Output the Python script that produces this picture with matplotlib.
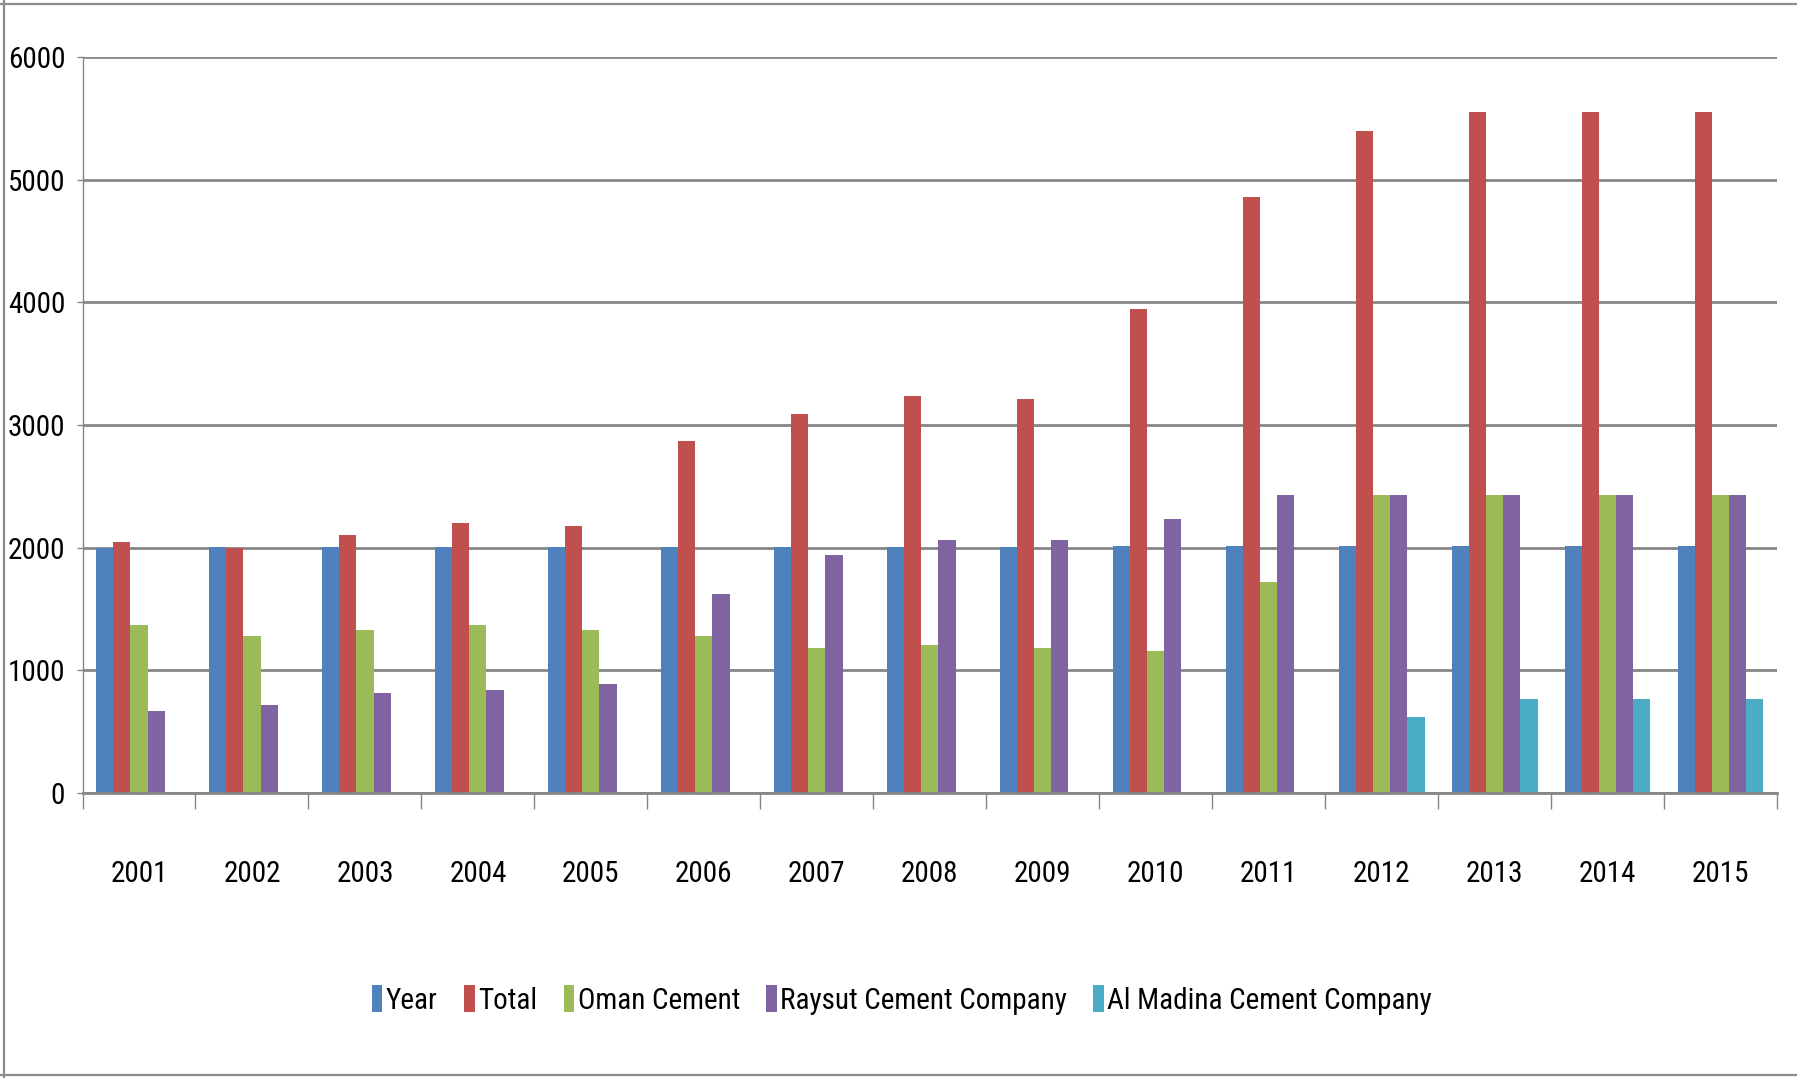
import numpy as np
import matplotlib
matplotlib.use("Agg")
import matplotlib.pyplot as plt
from matplotlib import font_manager
from matplotlib.lines import Line2D

# pick the narrowest font that is installed (the chart uses a very condensed face)
installed = {(f.name, f.stretch) for f in font_manager.fontManager.ttflist}
names = {n for n, _ in installed}
if 'Liberation Sans Narrow' in names:
    fam, stretch, fs = 'Liberation Sans Narrow', 'normal', 22
elif 'Roboto Condensed' in names:
    fam, stretch, fs = 'Roboto Condensed', 'normal', 21
elif ('DejaVu Sans', 'condensed') in installed or ('DejaVu Sans', 700) in installed:
    fam, stretch, fs = 'DejaVu Sans', 'condensed', 18
elif 'Liberation Sans' in names:
    fam, stretch, fs = 'Liberation Sans', 'normal', 18
else:
    fam, stretch, fs = 'DejaVu Sans', 'normal', 16
plt.rcParams['font.family'] = [fam, 'DejaVu Sans']
plt.rcParams['font.stretch'] = stretch

# data
years = ['2001', '2002', '2003', '2004', '2005', '2006', '2007', '2008',
         '2009', '2010', '2011', '2012', '2013', '2014', '2015']
year_vals = [2001, 2002, 2003, 2004, 2005, 2006, 2007, 2008,
             2009, 2010, 2011, 2012, 2013, 2014, 2015]
total = [2050, 1995, 2100, 2200, 2180, 2870, 3090, 3235,
         3215, 3945, 4860, 5400, 5550, 5550, 5550]
oman = [1370, 1280, 1330, 1370, 1327, 1280, 1182, 1208,
        1186, 1160, 1720, 2430, 2430, 2430, 2430]
raysut = [670, 720, 815, 840, 890, 1620, 1940, 2060,
          2060, 2230, 2430, 2430, 2430, 2430, 2430]
madina = [np.nan] * 11 + [620, 770, 770, 770]

series = [('Year', year_vals, '#4F81BD'),
          ('Total', total, '#C0504D'),
          ('Oman Cement', oman, '#9BBB59'),
          ('Raysut Cement Company', raysut, '#8064A2'),
          ('Al Madina Cement Company', madina, '#4BACC6')]

W, H = 1797, 1078
fig = plt.figure(figsize=(W / 100, H / 100), dpi=100)
ax = fig.add_axes([82.5 / W, 1 - 793 / H, (1777 - 82.5) / W, (793 - 57) / H])

x = np.arange(len(years))
bw = 0.152
for k, (name, vals, col) in enumerate(series):
    ax.bar(x + (k - 2) * bw, vals, bw, color=col, label=name, zorder=3)

ax.set_xlim(-0.5, len(years) - 0.5)
ax.set_ylim(0, 6000)
ax.set_yticks(range(0, 6001, 1000))
ax.yaxis.grid(True, color='#868686', linewidth=2, zorder=1)

gray = '#868686'
for s in ['top', 'right']:
    ax.spines[s].set_visible(False)
ax.spines['left'].set_color(gray)
ax.spines['left'].set_linewidth(1)
ax.spines['bottom'].set_color(gray)
ax.spines['bottom'].set_linewidth(2)
ax.spines['bottom'].set_zorder(4)

ax.set_xticks(x)
ax.set_xticklabels(years)
ax.set_xticks(np.arange(-0.5, len(years)), minor=True)
xpad = (871 - 793) / 1.389 - fs * 0.36
ax.tick_params(axis='x', which='major', length=0, pad=xpad, labelsize=fs)
ax.tick_params(axis='x', which='minor', length=11.5, width=1, color=gray,
               direction='out')
ax.tick_params(axis='y', length=4.5, width=1, color=gray, pad=8, labelsize=fs)

leg = ax.legend(loc='center', bbox_to_anchor=(902 / W, 1 - 1000 / H),
                bbox_transform=fig.transFigure, ncol=5, frameon=False,
                fontsize=fs, handlelength=0.36, handleheight=1.05,
                handletextpad=0.12, columnspacing=0.9)

# outer chart frame
fig.add_artist(Line2D([0, 1], [1 - 4 / H, 1 - 4 / H], color='#8c8c8c', lw=1.6))
fig.add_artist(Line2D([3.5 / W, 3.5 / W], [0, 1], color='#8c8c8c', lw=1.6))
fig.add_artist(Line2D([0, 1], [3.5 / H, 3.5 / H], color='#8c8c8c', lw=1.6))

fig.savefig('out.png', dpi=100, facecolor='white')
